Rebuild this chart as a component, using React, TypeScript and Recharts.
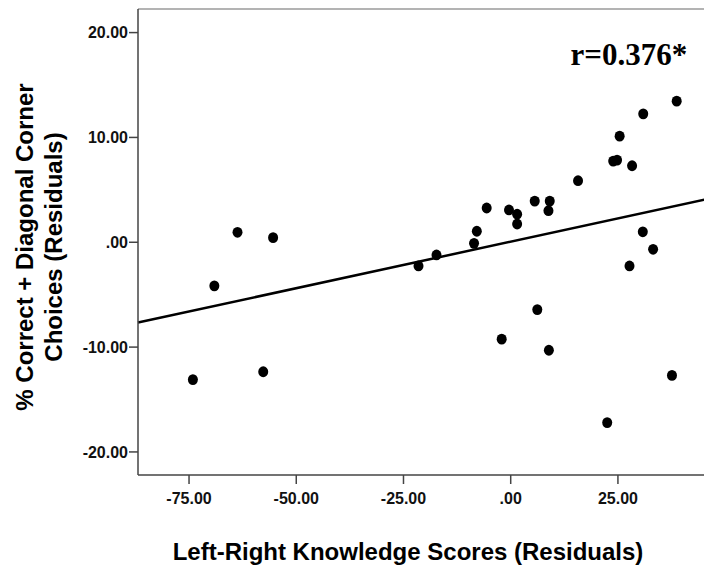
import React from 'react';
import { ScatterChart, Scatter, XAxis, YAxis, ReferenceLine, Label } from 'recharts';

// Left-Right Knowledge Scores (Residuals)
const knowledgeResiduals = [
  -74.1, -69.1, -63.7, -57.7, -55.4, -21.5, -17.3, -8.55, -7.9, -5.6, -2.1,
  -0.4, 1.5, 1.5, 5.6, 6.2, 8.8, 9.1, 8.9, 15.7, 22.5, 23.9, 24.8, 25.4, 27.7,
  28.3, 30.8, 30.9, 33.2, 37.6, 38.7,
];
// % Correct + Diagonal Corner Choices (Residuals)
const choiceResiduals = [
  -13.1, -4.16, 0.95, -12.35, 0.44, -2.26, -1.21, -0.1, 1.05, 3.27, -9.24,
  3.08, 2.67, 1.74, 3.93, -6.42, 3.01, 3.93, -10.3, 5.87, -17.2, 7.74, 7.84,
  10.12, -2.26, 7.3, 1.0, 12.25, -0.67, -12.7, 13.46,
];

// fitted regression line end points
const fitX = [-86.9, 46];
const fitY = [-7.66, 4.14];

const xTicks = [-75, -50, -25, 0, 25];
const yTicks = [-20, -10, 0, 10, 20];
const xDomain = [-86.9, 46];
const yDomain = [-22.2, 22.25];

const xTitle = 'Left-Right Knowledge Scores (Residuals)';
const yTitleLines = ['% Correct + Diagonal Corner', 'Choices (Residuals)'];
const annotation = 'r=0.376*';

const points = knowledgeResiduals.map((x, i) => ({ x, y: choiceResiduals[i] }));

const fmt = (v: number) => (v === 0 ? '.00' : v.toFixed(2));

const SANS = '"Liberation Sans", Arial, sans-serif';
const SERIF = '"Liberation Serif", "Times New Roman", serif';

const tickStyle = { fontFamily: SANS, fontSize: 16, fontWeight: 700, fill: '#111' };

const Dot = (props: any) => {
  const { cx, cy } = props;
  if (cx == null || cy == null) return null;
  return <ellipse cx={cx} cy={cy} rx={5} ry={5.4} fill="#000" />;
};

export default function App() {
  return (
    <div
      style={{
        position: 'fixed',
        left: 0,
        top: 0,
        width: 704,
        height: 567,
        overflow: 'hidden',
        background: '#fff',
      }}
    >
      <ScatterChart width={712} height={567} margin={{ top: 9, right: 4, bottom: 0, left: 0 }}>
        <XAxis
          type="number"
          dataKey="x"
          domain={xDomain}
          ticks={xTicks}
          tickFormatter={fmt}
          allowDataOverflow
          height={92}
          tickSize={9}
          tickMargin={9}
          tick={tickStyle}
          axisLine={{ stroke: '#444', strokeWidth: 1.5 }}
          tickLine={{ stroke: '#444', strokeWidth: 1.5 }}
        >
          <Label
            content={() => (
              <text
                x={408}
                y={560}
                textAnchor="middle"
                fontFamily={SANS}
                fontSize={24}
                fontWeight={700}
                fill="#000"
              >
                {xTitle}
              </text>
            )}
          />
        </XAxis>
        <YAxis
          type="number"
          dataKey="y"
          domain={yDomain}
          ticks={yTicks}
          tickFormatter={fmt}
          allowDataOverflow
          width={138}
          tickSize={9}
          tickMargin={1}
          tick={tickStyle}
          axisLine={{ stroke: '#444', strokeWidth: 1.5 }}
          tickLine={{ stroke: '#444', strokeWidth: 1.5 }}
        >
          <Label
            content={() => (
              <g>
                <text
                  transform="translate(33,247) rotate(-90)"
                  textAnchor="middle"
                  fontFamily={SANS}
                  fontSize={24}
                  fontWeight={700}
                  fill="#000"
                >
                  <tspan x={0} y={0}>{yTitleLines[0]}</tspan>
                  <tspan x={0} y={29}>{yTitleLines[1]}</tspan>
                </text>
                <text
                  x={570.5}
                  y={65}
                  fontFamily={SERIF}
                  fontSize={31}
                  fontWeight={700}
                  fill="#000"
                >
                  {annotation}
                </text>
              </g>
            )}
          />
        </YAxis>
        <ReferenceLine y={yDomain[1]} stroke="#9a9a9a" strokeWidth={1.5} ifOverflow="visible" />
        <ReferenceLine
          segment={[
            { x: fitX[0], y: fitY[0] },
            { x: fitX[1], y: fitY[1] },
          ]}
          stroke="#000"
          strokeWidth={2.5}
          ifOverflow="visible"
        />
        <Scatter data={points} shape={Dot} isAnimationActive={false} />
      </ScatterChart>
    </div>
  );
}
